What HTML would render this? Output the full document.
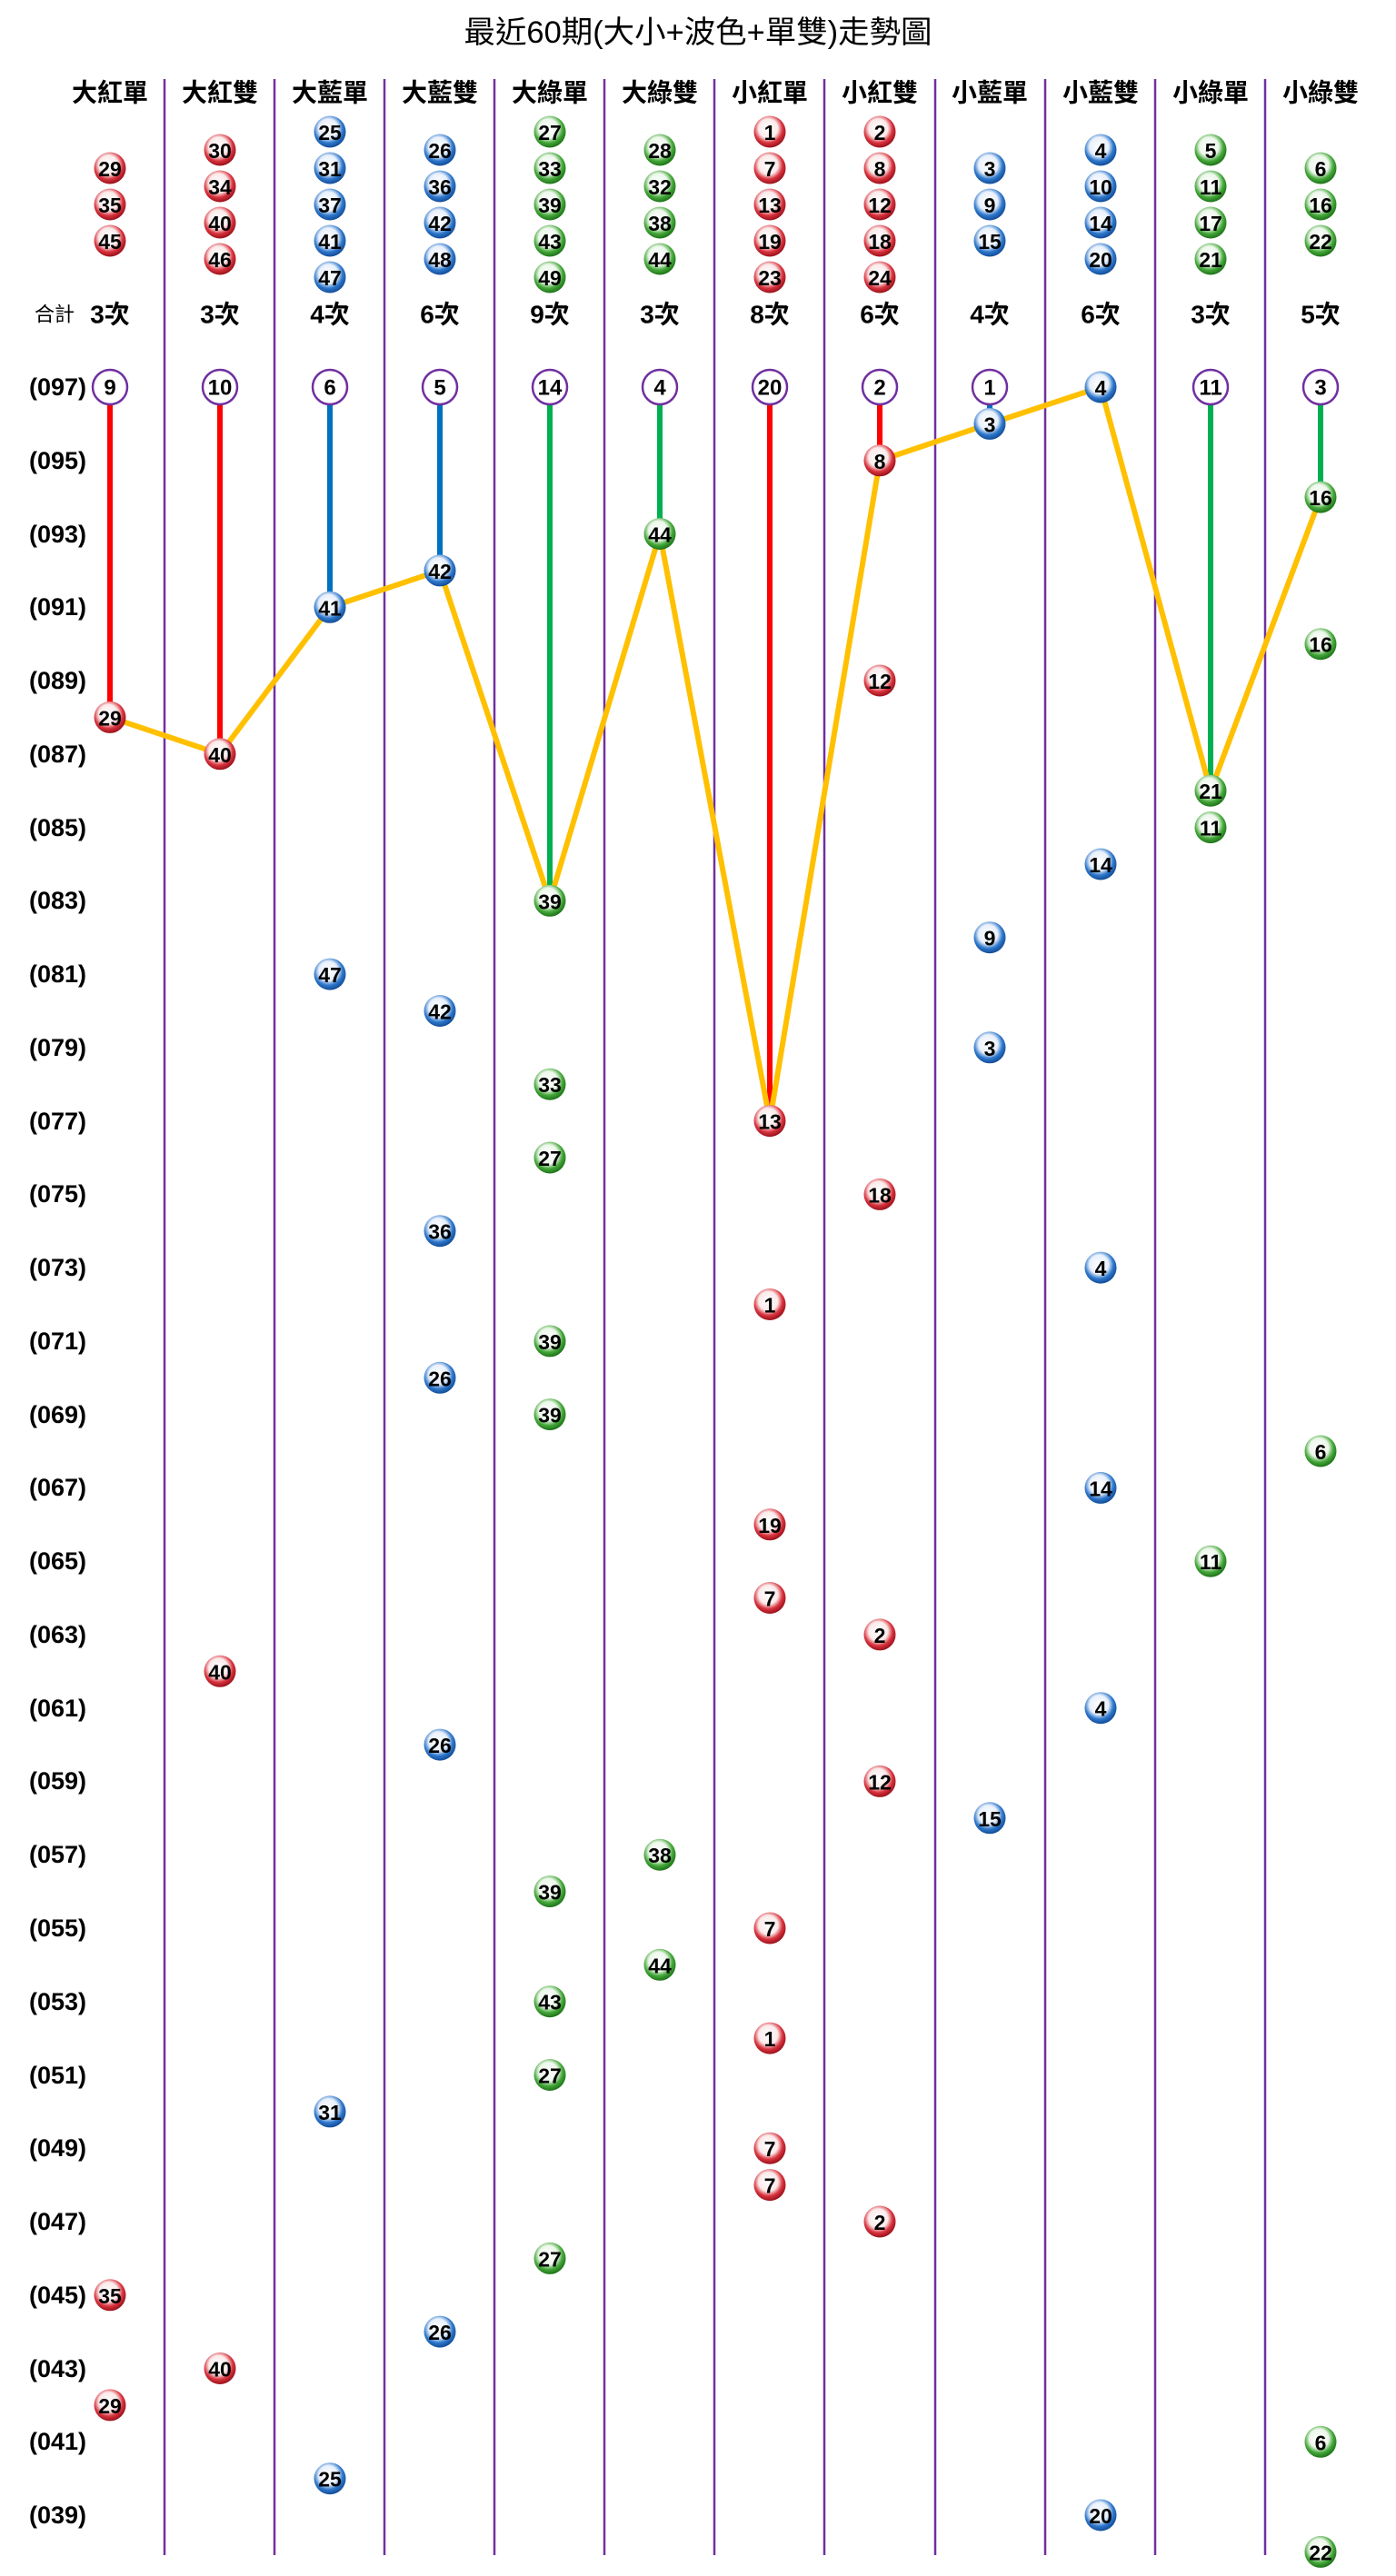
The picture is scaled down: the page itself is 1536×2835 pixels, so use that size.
<!DOCTYPE html>
<html><head><meta charset="utf-8">
<style>
html,body{margin:0;padding:0;background:#fff;}
svg{display:block;}
.n{font-family:"Liberation Sans Narrow","Liberation Sans",Arial,sans-serif;font-weight:bold;font-size:23px;fill:#000;text-anchor:middle;dominant-baseline:central;}
.c{font-family:"Liberation Sans",Arial,sans-serif;font-weight:bold;font-size:24px;fill:#000;text-anchor:middle;dominant-baseline:central;}
.h{font-family:"Liberation Sans","Noto Sans CJK TC",sans-serif;font-weight:bold;font-size:28px;fill:#000;text-anchor:middle;dominant-baseline:central;}
.lab{font-family:"Liberation Sans",sans-serif;font-weight:bold;font-size:27px;fill:#000;text-anchor:end;dominant-baseline:central;}
</style></head><body>
<svg width="1536" height="2835" viewBox="0 0 1536 2835" xmlns="http://www.w3.org/2000/svg">
<defs>
<radialGradient id="R" cx="45%" cy="40%" r="60%"><stop offset="0" stop-color="#fff"/><stop offset="0.5" stop-color="#fbeaea"/><stop offset="0.75" stop-color="#d9343f"/><stop offset="1" stop-color="#9a101a"/></radialGradient>
<radialGradient id="B" cx="45%" cy="40%" r="60%"><stop offset="0" stop-color="#fff"/><stop offset="0.5" stop-color="#e8f0fb"/><stop offset="0.75" stop-color="#2f78cc"/><stop offset="1" stop-color="#124c98"/></radialGradient>
<radialGradient id="G" cx="45%" cy="40%" r="60%"><stop offset="0" stop-color="#fff"/><stop offset="0.5" stop-color="#ecf7ea"/><stop offset="0.75" stop-color="#45a83a"/><stop offset="1" stop-color="#1d7318"/></radialGradient>
</defs>
<rect width="1536" height="2835" fill="#fff"/>
<text x="768" y="36" font-family="'Liberation Sans','Noto Sans CJK TC',sans-serif" font-size="34" text-anchor="middle" dominant-baseline="central" textLength="515" lengthAdjust="spacingAndGlyphs">最近60期(大小+波色+單雙)走勢圖</text>

<g stroke="#7030a0" stroke-width="2.5">
<line x1="181" y1="87" x2="181" y2="2812"/><line x1="302" y1="87" x2="302" y2="2812"/><line x1="423" y1="87" x2="423" y2="2812"/><line x1="544" y1="87" x2="544" y2="2812"/><line x1="665" y1="87" x2="665" y2="2812"/><line x1="786" y1="87" x2="786" y2="2812"/><line x1="907" y1="87" x2="907" y2="2812"/><line x1="1029" y1="87" x2="1029" y2="2812"/><line x1="1150" y1="87" x2="1150" y2="2812"/><line x1="1271" y1="87" x2="1271" y2="2812"/><line x1="1392" y1="87" x2="1392" y2="2812"/>
</g>

<g>
<text class="h" x="121" y="102">大紅單</text><text class="h" x="242" y="102">大紅雙</text><text class="h" x="363" y="102">大藍單</text><text class="h" x="484" y="102">大藍雙</text><text class="h" x="605" y="102">大綠單</text><text class="h" x="726" y="102">大綠雙</text><text class="h" x="847" y="102">小紅單</text><text class="h" x="968" y="102">小紅雙</text><text class="h" x="1089" y="102">小藍單</text><text class="h" x="1211" y="102">小藍雙</text><text class="h" x="1332" y="102">小綠單</text><text class="h" x="1453" y="102">小綠雙</text>
</g>

<g font-family="'Liberation Sans','Noto Sans CJK TC',sans-serif" font-size="28" font-weight="bold" text-anchor="middle" dominant-baseline="central">
<text x="60" y="346" font-size="22" font-weight="normal">合計</text>
<text x="121" y="346">3次</text><text x="242" y="346">3次</text><text x="363" y="346">4次</text><text x="484" y="346">6次</text><text x="605" y="346">9次</text><text x="726" y="346">3次</text><text x="847" y="346">8次</text><text x="968" y="346">6次</text><text x="1089" y="346">4次</text><text x="1211" y="346">6次</text><text x="1332" y="346">3次</text><text x="1453" y="346">5次</text>
</g>

<g>
<text class="lab" x="95" y="426">(097)</text><text class="lab" x="95" y="507">(095)</text><text class="lab" x="95" y="588">(093)</text><text class="lab" x="95" y="668">(091)</text><text class="lab" x="95" y="749">(089)</text><text class="lab" x="95" y="830">(087)</text><text class="lab" x="95" y="911">(085)</text><text class="lab" x="95" y="991">(083)</text><text class="lab" x="95" y="1072">(081)</text><text class="lab" x="95" y="1153">(079)</text><text class="lab" x="95" y="1234">(077)</text><text class="lab" x="95" y="1314">(075)</text><text class="lab" x="95" y="1395">(073)</text><text class="lab" x="95" y="1476">(071)</text><text class="lab" x="95" y="1557">(069)</text><text class="lab" x="95" y="1637">(067)</text><text class="lab" x="95" y="1718">(065)</text><text class="lab" x="95" y="1799">(063)</text><text class="lab" x="95" y="1880">(061)</text><text class="lab" x="95" y="1960">(059)</text><text class="lab" x="95" y="2041">(057)</text><text class="lab" x="95" y="2122">(055)</text><text class="lab" x="95" y="2203">(053)</text><text class="lab" x="95" y="2284">(051)</text><text class="lab" x="95" y="2364">(049)</text><text class="lab" x="95" y="2445">(047)</text><text class="lab" x="95" y="2526">(045)</text><text class="lab" x="95" y="2607">(043)</text><text class="lab" x="95" y="2687">(041)</text><text class="lab" x="95" y="2768">(039)</text>
</g>

<g stroke-width="6">
<line x1="121" y1="426" x2="121" y2="789" stroke="#ff0000"/>
<line x1="242" y1="426" x2="242" y2="830" stroke="#ff0000"/>
<line x1="363" y1="426" x2="363" y2="668" stroke="#0070c0"/>
<line x1="484" y1="426" x2="484" y2="628" stroke="#0070c0"/>
<line x1="605" y1="426" x2="605" y2="991" stroke="#00b050"/>
<line x1="726" y1="426" x2="726" y2="588" stroke="#00b050"/>
<line x1="847" y1="426" x2="847" y2="1234" stroke="#ff0000"/>
<line x1="968" y1="426" x2="968" y2="507" stroke="#ff0000"/>
<line x1="1089" y1="426" x2="1089" y2="466" stroke="#0070c0"/>
<line x1="1332" y1="426" x2="1332" y2="870" stroke="#00b050"/>
<line x1="1453" y1="426" x2="1453" y2="547" stroke="#00b050"/>
</g>
<polyline fill="none" stroke="#ffc000" stroke-width="6" stroke-linejoin="round" points="121,789.4 242,829.8 363,668.3 484,627.9 605,991.3 726,587.5 847,1233.6 968,506.8 1089,466.4 1211,426 1332,870.2 1453,547.1"/>

<g fill="#fff" stroke="#7030a0" stroke-width="2.5">
<circle cx="121" cy="426" r="19"/><circle cx="242" cy="426" r="19"/><circle cx="363" cy="426" r="19"/><circle cx="484" cy="426" r="19"/><circle cx="605" cy="426" r="19"/><circle cx="726" cy="426" r="19"/><circle cx="847" cy="426" r="19"/><circle cx="968" cy="426" r="19"/><circle cx="1089" cy="426" r="19"/><circle cx="1332" cy="426" r="19"/><circle cx="1453" cy="426" r="19"/>
</g>
<g>
<text class="c" x="121" y="427">9</text><text class="c" x="242" y="427">10</text><text class="c" x="363" y="427">6</text><text class="c" x="484" y="427">5</text><text class="c" x="605" y="427">14</text><text class="c" x="726" y="427">4</text><text class="c" x="847" y="427">20</text><text class="c" x="968" y="427">2</text><text class="c" x="1089" y="427">1</text><text class="c" x="1332" y="427">11</text><text class="c" x="1453" y="427">3</text>
</g>

<g fill="url(#R)">
<circle cx="121" cy="185" r="17.5"/><circle cx="121" cy="225" r="17.5"/><circle cx="121" cy="265" r="17.5"/>
<circle cx="242" cy="165" r="17.5"/><circle cx="242" cy="205" r="17.5"/><circle cx="242" cy="245" r="17.5"/><circle cx="242" cy="285" r="17.5"/>
<circle cx="847" cy="145" r="17.5"/><circle cx="847" cy="185" r="17.5"/><circle cx="847" cy="225" r="17.5"/><circle cx="847" cy="265" r="17.5"/><circle cx="847" cy="305" r="17.5"/>
<circle cx="968" cy="145" r="17.5"/><circle cx="968" cy="185" r="17.5"/><circle cx="968" cy="225" r="17.5"/><circle cx="968" cy="265" r="17.5"/><circle cx="968" cy="305" r="17.5"/>
<circle cx="121" cy="789.4" r="17.5"/><circle cx="121" cy="2525.8" r="17.5"/><circle cx="121" cy="2646.9" r="17.5"/>
<circle cx="242" cy="829.8" r="17.5"/><circle cx="242" cy="1839.3" r="17.5"/><circle cx="242" cy="2606.5" r="17.5"/>
<circle cx="847" cy="1233.6" r="17.5"/><circle cx="847" cy="1435.5" r="17.5"/><circle cx="847" cy="1677.8" r="17.5"/><circle cx="847" cy="1758.5" r="17.5"/><circle cx="847" cy="2122" r="17.5"/><circle cx="847" cy="2243.1" r="17.5"/><circle cx="847" cy="2364.2" r="17.5"/><circle cx="847" cy="2404.6" r="17.5"/>
<circle cx="968" cy="506.8" r="17.5"/><circle cx="968" cy="749" r="17.5"/><circle cx="968" cy="1314.4" r="17.5"/><circle cx="968" cy="1798.9" r="17.5"/><circle cx="968" cy="1960.4" r="17.5"/><circle cx="968" cy="2445" r="17.5"/>
</g>
<g fill="url(#B)">
<circle cx="363" cy="145" r="17.5"/><circle cx="363" cy="185" r="17.5"/><circle cx="363" cy="225" r="17.5"/><circle cx="363" cy="265" r="17.5"/><circle cx="363" cy="305" r="17.5"/>
<circle cx="484" cy="165" r="17.5"/><circle cx="484" cy="205" r="17.5"/><circle cx="484" cy="245" r="17.5"/><circle cx="484" cy="285" r="17.5"/>
<circle cx="1089" cy="185" r="17.5"/><circle cx="1089" cy="225" r="17.5"/><circle cx="1089" cy="265" r="17.5"/>
<circle cx="1211" cy="165" r="17.5"/><circle cx="1211" cy="205" r="17.5"/><circle cx="1211" cy="245" r="17.5"/><circle cx="1211" cy="285" r="17.5"/>
<circle cx="363" cy="668.3" r="17.5"/><circle cx="363" cy="1072.1" r="17.5"/><circle cx="363" cy="2323.9" r="17.5"/><circle cx="363" cy="2727.7" r="17.5"/>
<circle cx="484" cy="627.9" r="17.5"/><circle cx="484" cy="1112.5" r="17.5"/><circle cx="484" cy="1354.7" r="17.5"/><circle cx="484" cy="1516.3" r="17.5"/><circle cx="484" cy="1920.1" r="17.5"/><circle cx="484" cy="2566.1" r="17.5"/>
<circle cx="1089" cy="466.4" r="17.5"/><circle cx="1089" cy="1031.7" r="17.5"/><circle cx="1089" cy="1152.8" r="17.5"/><circle cx="1089" cy="2000.8" r="17.5"/>
<circle cx="1211" cy="426" r="17.5"/><circle cx="1211" cy="951" r="17.5"/><circle cx="1211" cy="1395.1" r="17.5"/><circle cx="1211" cy="1637.4" r="17.5"/><circle cx="1211" cy="1879.7" r="17.5"/><circle cx="1211" cy="2768" r="17.5"/>
</g>
<g fill="url(#G)">
<circle cx="605" cy="145" r="17.5"/><circle cx="605" cy="185" r="17.5"/><circle cx="605" cy="225" r="17.5"/><circle cx="605" cy="265" r="17.5"/><circle cx="605" cy="305" r="17.5"/>
<circle cx="726" cy="165" r="17.5"/><circle cx="726" cy="205" r="17.5"/><circle cx="726" cy="245" r="17.5"/><circle cx="726" cy="285" r="17.5"/>
<circle cx="1332" cy="165" r="17.5"/><circle cx="1332" cy="205" r="17.5"/><circle cx="1332" cy="245" r="17.5"/><circle cx="1332" cy="285" r="17.5"/>
<circle cx="1453" cy="185" r="17.5"/><circle cx="1453" cy="225" r="17.5"/><circle cx="1453" cy="265" r="17.5"/>
<circle cx="605" cy="991.3" r="17.5"/><circle cx="605" cy="1193.2" r="17.5"/><circle cx="605" cy="1274" r="17.5"/><circle cx="605" cy="1475.9" r="17.5"/><circle cx="605" cy="1556.6" r="17.5"/><circle cx="605" cy="2081.6" r="17.5"/><circle cx="605" cy="2202.7" r="17.5"/><circle cx="605" cy="2283.5" r="17.5"/><circle cx="605" cy="2485.4" r="17.5"/>
<circle cx="726" cy="587.5" r="17.5"/><circle cx="726" cy="2041.2" r="17.5"/><circle cx="726" cy="2162.3" r="17.5"/>
<circle cx="1332" cy="870.2" r="17.5"/><circle cx="1332" cy="910.6" r="17.5"/><circle cx="1332" cy="1718.2" r="17.5"/>
<circle cx="1453" cy="547.1" r="17.5"/><circle cx="1453" cy="708.7" r="17.5"/><circle cx="1453" cy="1597" r="17.5"/><circle cx="1453" cy="2687.3" r="17.5"/><circle cx="1453" cy="2808.4" r="17.5"/>
</g>

<g>
<text class="n" x="121" y="186">29</text><text class="n" x="121" y="226">35</text><text class="n" x="121" y="266">45</text>
<text class="n" x="242" y="166">30</text><text class="n" x="242" y="206">34</text><text class="n" x="242" y="246">40</text><text class="n" x="242" y="286">46</text>
<text class="n" x="363" y="146">25</text><text class="n" x="363" y="186">31</text><text class="n" x="363" y="226">37</text><text class="n" x="363" y="266">41</text><text class="n" x="363" y="306">47</text>
<text class="n" x="484" y="166">26</text><text class="n" x="484" y="206">36</text><text class="n" x="484" y="246">42</text><text class="n" x="484" y="286">48</text>
<text class="n" x="605" y="146">27</text><text class="n" x="605" y="186">33</text><text class="n" x="605" y="226">39</text><text class="n" x="605" y="266">43</text><text class="n" x="605" y="306">49</text>
<text class="n" x="726" y="166">28</text><text class="n" x="726" y="206">32</text><text class="n" x="726" y="246">38</text><text class="n" x="726" y="286">44</text>
<text class="n" x="847" y="146">1</text><text class="n" x="847" y="186">7</text><text class="n" x="847" y="226">13</text><text class="n" x="847" y="266">19</text><text class="n" x="847" y="306">23</text>
<text class="n" x="968" y="146">2</text><text class="n" x="968" y="186">8</text><text class="n" x="968" y="226">12</text><text class="n" x="968" y="266">18</text><text class="n" x="968" y="306">24</text>
<text class="n" x="1089" y="186">3</text><text class="n" x="1089" y="226">9</text><text class="n" x="1089" y="266">15</text>
<text class="n" x="1211" y="166">4</text><text class="n" x="1211" y="206">10</text><text class="n" x="1211" y="246">14</text><text class="n" x="1211" y="286">20</text>
<text class="n" x="1332" y="166">5</text><text class="n" x="1332" y="206">11</text><text class="n" x="1332" y="246">17</text><text class="n" x="1332" y="286">21</text>
<text class="n" x="1453" y="186">6</text><text class="n" x="1453" y="226">16</text><text class="n" x="1453" y="266">22</text>

<text class="n" x="121" y="790.4">29</text><text class="n" x="121" y="2526.8">35</text><text class="n" x="121" y="2647.9">29</text>
<text class="n" x="242" y="830.8">40</text><text class="n" x="242" y="1840.3">40</text><text class="n" x="242" y="2607.5">40</text>
<text class="n" x="363" y="669.3">41</text><text class="n" x="363" y="1073.1">47</text><text class="n" x="363" y="2324.9">31</text><text class="n" x="363" y="2728.7">25</text>
<text class="n" x="484" y="628.9">42</text><text class="n" x="484" y="1113.5">42</text><text class="n" x="484" y="1355.7">36</text><text class="n" x="484" y="1517.3">26</text><text class="n" x="484" y="1921.1">26</text><text class="n" x="484" y="2567.1">26</text>
<text class="n" x="605" y="992.3">39</text><text class="n" x="605" y="1194.2">33</text><text class="n" x="605" y="1275">27</text><text class="n" x="605" y="1476.9">39</text><text class="n" x="605" y="1557.6">39</text><text class="n" x="605" y="2082.6">39</text><text class="n" x="605" y="2203.7">43</text><text class="n" x="605" y="2284.5">27</text><text class="n" x="605" y="2486.4">27</text>
<text class="n" x="726" y="588.5">44</text><text class="n" x="726" y="2042.2">38</text><text class="n" x="726" y="2163.3">44</text>
<text class="n" x="847" y="1234.6">13</text><text class="n" x="847" y="1436.5">1</text><text class="n" x="847" y="1678.8">19</text><text class="n" x="847" y="1759.5">7</text><text class="n" x="847" y="2123">7</text><text class="n" x="847" y="2244.1">1</text><text class="n" x="847" y="2365.2">7</text><text class="n" x="847" y="2405.6">7</text>
<text class="n" x="968" y="507.8">8</text><text class="n" x="968" y="750">12</text><text class="n" x="968" y="1315.4">18</text><text class="n" x="968" y="1799.9">2</text><text class="n" x="968" y="1961.4">12</text><text class="n" x="968" y="2446">2</text>
<text class="n" x="1089" y="467.4">3</text><text class="n" x="1089" y="1032.7">9</text><text class="n" x="1089" y="1153.8">3</text><text class="n" x="1089" y="2001.8">15</text>
<text class="n" x="1211" y="427">4</text><text class="n" x="1211" y="952">14</text><text class="n" x="1211" y="1396.1">4</text><text class="n" x="1211" y="1638.4">14</text><text class="n" x="1211" y="1880.7">4</text><text class="n" x="1211" y="2769">20</text>
<text class="n" x="1332" y="871.2">21</text><text class="n" x="1332" y="911.6">11</text><text class="n" x="1332" y="1719.2">11</text>
<text class="n" x="1453" y="548.1">16</text><text class="n" x="1453" y="709.7">16</text><text class="n" x="1453" y="1598">6</text><text class="n" x="1453" y="2688.3">6</text><text class="n" x="1453" y="2809.4">22</text>
</g>
</svg>
</body></html>
